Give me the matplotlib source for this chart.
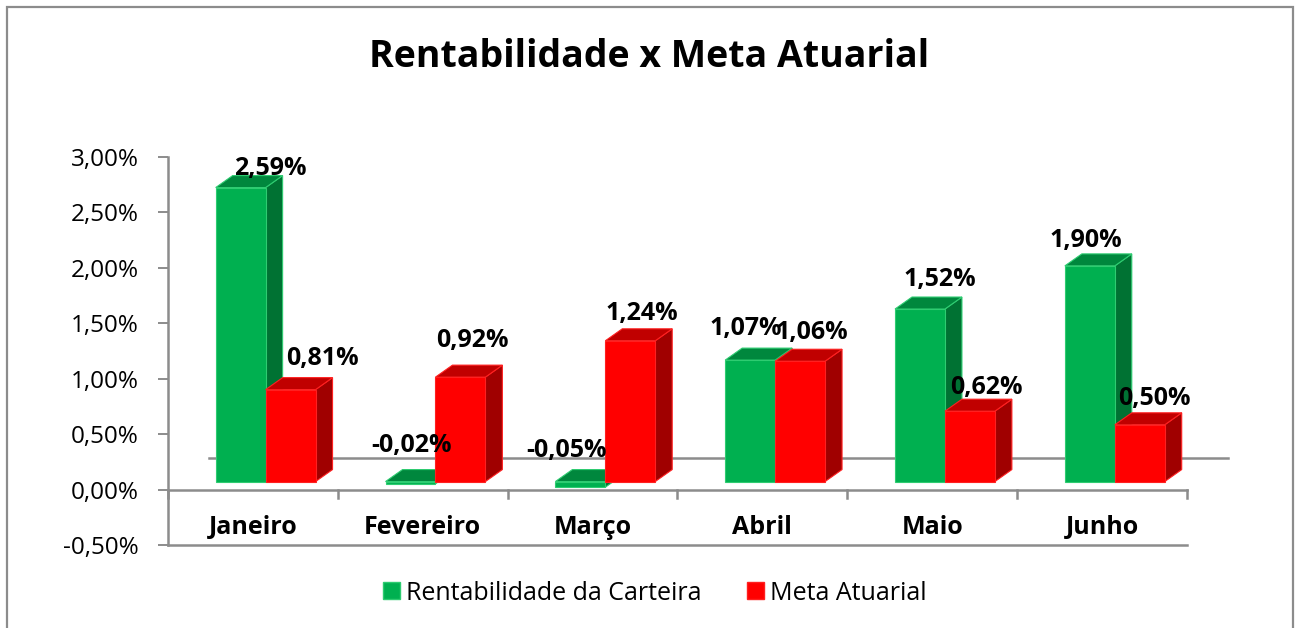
import matplotlib
matplotlib.use("Agg")
import matplotlib.pyplot as plt
from matplotlib.patches import Polygon, Rectangle, Patch
from matplotlib.lines import Line2D
import numpy as np

# ---------------- data ----------------
categories = ["Janeiro", "Fevereiro", "Março", "Abril", "Maio", "Junho"]
rentabilidade = [2.59, -0.02, -0.05, 1.07, 1.52, 1.90]
meta = [0.81, 0.92, 1.24, 1.06, 0.62, 0.50]
series_names = ["Rentabilidade da Carteira", "Meta Atuarial"]
yticks = [-0.5, 0.0, 0.5, 1.0, 1.5, 2.0, 2.5, 3.0]
title = "Rentabilidade x Meta Atuarial"

# label nudges (pixels) as placed in the original chart
label_dx = [[30, 1, -14, -4, 20, -4], [32, 12, 12, 12, 16, 15]]
label_dy = [[34, 46, 45, 42, 42, 38], [41, 47, 39, 40, 33, 36]]

plt.rcParams['font.family'] = ['Open Sans', 'DejaVu Sans']

W, H = 1295, 628
fig = plt.figure(figsize=(W / 100, H / 100), dpi=100)
fig.patch.set_facecolor("white")

# axes in pixel layout
x_left, x_right = 168, 1187
y_top, y_bot = 157, 545
ax = fig.add_axes([x_left / W, (H - y_bot) / H, (x_right - x_left) / W, (y_bot - y_top) / H])
ax.set_xlim(-0.5, 5.5)
ax.set_ylim(-0.5, 3.0)
ax.set_facecolor("none")

pxx = (x_right - x_left) / 6.0      # pixels per x unit
pxy = (y_bot - y_top) / 3.5         # pixels per y unit

gray = "#8c8c8c"
for s in ["top", "right"]:
    ax.spines[s].set_visible(False)
for s in ["left", "bottom"]:
    ax.spines[s].set_color(gray)
    ax.spines[s].set_linewidth(1.8)
ax.set_yticks(yticks)
ax.set_yticklabels([("%.2f%%" % v).replace(".", ",") for v in yticks], fontsize=17.5, color="black")
ax.tick_params(axis="y", length=7, width=1.4, color=gray, pad=14)
ax.set_xticks([])

# zero (category) axis with tick marks
ax.add_line(Line2D([-0.5, 5.5], [0, 0], color=gray, lw=1.8, clip_on=False, zorder=2))
tick_len = 8 / pxy
for i in range(7):
    ax.add_line(Line2D([i - 0.5, i - 0.5], [0, -tick_len], color=gray, lw=1.8, clip_on=False, zorder=2))

# back wall zero line
wall_dx, wall_dy = 41 / pxx, 32 / pxy
ax.add_line(Line2D([-0.5 + wall_dx, 5.5 + wall_dx], [wall_dy, wall_dy], color=gray, lw=1.8,
                   clip_on=False, zorder=1))

# 3D bar geometry (slight perspective magnification of bar heights)
sx, sy = 12.7 / pxx, 8 / pxy          # front face shift
ddx, ddy = 17 / pxx, 12 / pxy         # bar depth
bw = 0.294
bar_scale = 1.024

colors = [
    dict(front="#00B050", top="#00873D", side="#007233", edge="#2ECC71"),
    dict(front="#FF0000", top="#C00000", side="#A00000", edge="#FF2020"),
]

def draw_bar(x0, v, c):
    x1 = x0 + bw
    y0 = min(v, 0) * bar_scale + sy
    y1 = max(v, 0) * bar_scale + sy
    xa, xb = x0 + sx, x1 + sx
    side = Polygon([(xb, y0), (xb + ddx, y0 + ddy), (xb + ddx, y1 + ddy), (xb, y1)],
                   closed=True, facecolor=c["side"], edgecolor=c["edge"], lw=0.8, clip_on=False, zorder=3)
    top = Polygon([(xa, y1), (xb, y1), (xb + ddx, y1 + ddy), (xa + ddx, y1 + ddy)],
                  closed=True, facecolor=c["top"], edgecolor=c["edge"], lw=0.8, clip_on=False, zorder=3)
    front = Polygon([(xa, y0), (xb, y0), (xb, y1), (xa, y1)],
                    closed=True, facecolor=c["front"], edgecolor=c["edge"], lw=0.8, clip_on=False, zorder=3)
    ax.add_patch(side)
    ax.add_patch(top)
    ax.add_patch(front)
    return (xa + xb) / 2

series = [rentabilidade, meta]
for i in range(len(categories)):
    for s, vals in enumerate(series):
        x0 = i - bw + s * bw
        fc = draw_bar(x0, vals[i], colors[s])
        lab = ("%.2f%%" % vals[i]).replace(".", ",")
        ax.annotate(lab, xy=(fc, vals[i]), xytext=(label_dx[s][i], label_dy[s][i]),
                    textcoords="offset pixels", ha="center", va="center",
                    fontsize=18, fontweight="bold", color="black", zorder=6,
                    annotation_clip=False)

# category labels
for i, c in enumerate(categories):
    ax.text(i, -(527 - 489) / pxy, c, ha="center", va="center", fontsize=18,
            fontweight="bold", color="black")

# title
fig.text(649 / W, 1 - 57 / H, title, ha="center", va="center", fontsize=27, fontweight="bold")

# legend
handles = [Patch(facecolor=colors[0]["front"], edgecolor=colors[0]["edge"]),
           Patch(facecolor=colors[1]["front"], edgecolor=colors[1]["edge"])]
fig.legend(handles, series_names, loc="center", bbox_to_anchor=(655 / W, 1 - 593 / H),
           ncol=2, frameon=False, fontsize=18, handlelength=0.68, handleheight=0.68,
           handletextpad=0.26, columnspacing=1.8)

# outer border
fig.add_artist(Rectangle((7 / W, -0.05), (1293 - 7) / W, 1.05 - 7 / H, transform=fig.transFigure,
                         fill=False, edgecolor=gray, lw=1.6))

fig.savefig("out.png", dpi=100, facecolor="white")
